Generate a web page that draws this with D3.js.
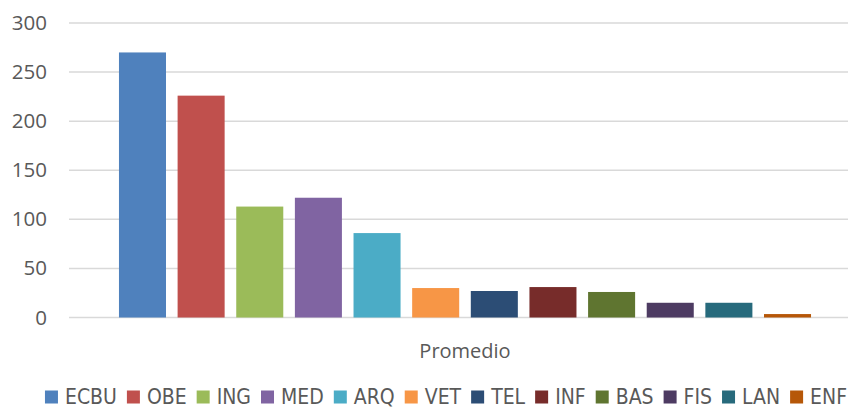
<!DOCTYPE html>
<html>
<head>
<meta charset="utf-8">
<script src="https://cdn.jsdelivr.net/npm/d3@7"></script>
<style>
  body { margin: 0; background: #fff; }
  svg { display: block; }
</style>
</head>
<body>
<div id="viz"></div>
<script>
// one category, twelve series (one bar each)
const category = "Promedio";
const seriesNames = ["ECBU", "OBE", "ING", "MED", "ARQ", "VET", "TEL", "INF", "BAS", "FIS", "LAN", "ENF"];
const seriesValues = [270, 226, 113, 122, 86, 30, 27, 31, 26, 15, 15, 3.5];
const seriesColors = ["#4F81BD", "#C0504D", "#9BBB59", "#8064A2", "#4BACC6", "#F79646",
                      "#2C4D75", "#772C2A", "#5F7530", "#4D3B62", "#276A7C", "#B65708"];
const yTicks = [0, 50, 100, 150, 200, 250, 300];

const width = 848;
const height = 409;
// plot area runs a bit past the right edge, like the cropped original
const margin = { top: 23, left: 69, right: -13, bottom: 91.5 };

const data = seriesNames.map((name, i) => ({ name: name, value: seriesValues[i], color: seriesColors[i] }));

const svg = d3.select("#viz")
  .append("svg")
  .attr("width", width)
  .attr("height", height);

const yScale = d3.scaleLinear()
  .domain([0, 300])
  .range([height - margin.bottom, margin.top]);

const x0 = d3.scaleBand()
  .domain([category])
  .range([margin.left, width - margin.right])
  .paddingOuter(0.0722);

const x1 = d3.scaleBand()
  .domain(seriesNames)
  .range([0, x0.bandwidth()])
  .paddingInner(0.198);

// gridlines
svg.append("g")
  .selectAll("line")
  .data(yTicks)
  .join("line")
  .attr("x1", margin.left)
  .attr("x2", width - margin.right)
  .attr("y1", d => yScale(d))
  .attr("y2", d => yScale(d))
  .attr("stroke", "#d9d9d9")
  .attr("stroke-width", 1.5);

// y axis labels
function yAxis(g) {
  g.attr("transform", `translate(${margin.left}, 0)`)
    .call(d3.axisLeft(yScale).tickValues(yTicks).tickSize(0).tickPadding(22))
    .call(g => g.select(".domain").remove())
    .attr("font-family", "'Open Sans', sans-serif")
    .attr("font-size", "20.5px");
  g.selectAll("text").attr("fill", "#595959");
}
svg.append("g").call(yAxis);

// bars
svg.append("g")
  .attr("transform", `translate(${x0(category)}, 0)`)
  .selectAll("rect")
  .data(data)
  .join("rect")
  .attr("x", d => x1(d.name))
  .attr("y", d => yScale(d.value))
  .attr("width", x1.bandwidth())
  .attr("height", d => yScale(0) - yScale(d.value))
  .attr("fill", d => d.color);

// category label
svg.append("text")
  .attr("x", x0(category) + x0.bandwidth() / 2)
  .attr("y", 358)
  .attr("text-anchor", "middle")
  .attr("font-family", "'Open Sans', sans-serif")
  .attr("font-size", "20px")
  .attr("fill", "#595959")
  .text(category);

// legend: flow layout, centred
const legend = svg.append("g")
  .attr("font-family", "'Liberation Sans Narrow', 'DejaVu Sans Condensed', sans-serif")
  .attr("font-size", "21px");

const items = legend.selectAll("g")
  .data(data)
  .join("g");

items.append("rect")
  .attr("width", 13)
  .attr("height", 13)
  .attr("y", 390.5)
  .attr("fill", d => d.color);

items.append("text")
  .attr("x", 20)
  .attr("y", 403.5)
  .attr("fill", "#595959")
  .text(d => d.name);

let cursor = 0;
const offsets = [];
items.each(function () {
  const w = d3.select(this).select("text").node().getComputedTextLength();
  offsets.push(cursor);
  cursor += 20 + w + 10;
});
const totalWidth = cursor - 10;
const legendStart = 446 - totalWidth / 2;
items.attr("transform", (d, i) => `translate(${legendStart + offsets[i]}, 0)`);
</script>
</body>
</html>
